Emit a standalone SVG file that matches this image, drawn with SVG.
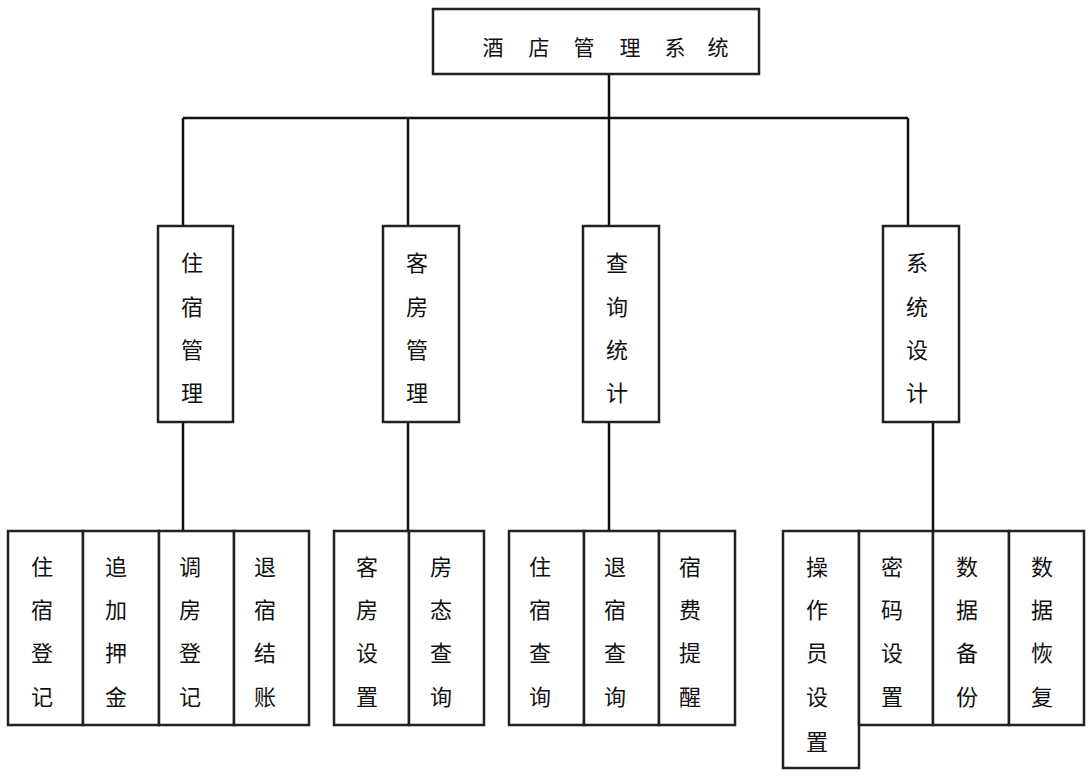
<svg xmlns="http://www.w3.org/2000/svg" width="1091" height="784" viewBox="0 0 1091 784">
<style>
.box{fill:#fff;stroke:#222;stroke-width:2.5}
.ln{fill:none;stroke:#111;stroke-width:2.5}
text{font-family:"Noto Sans CJK SC","Noto Sans CJK JP",sans-serif;fill:#111;text-anchor:middle;font-size:22px}
.t{font-size:21px}
</style>
<rect width="1091" height="784" fill="#fff"/>
<g id="connectors">
<path class="ln" d="M609 74V118M183 118H908M183 118V226M408 118V226M609 118V226M908 118V226"/>
<path class="ln" d="M183 422V531M408 422V531M609 422V531M933 422V531"/>
</g>
<g id="root"><rect class="box" x="433" y="9" width="326" height="65"/><text class="t" x="493 539 584 630 675 718" y="55">酒店管理系统</text></g>
<g id="n1"><rect class="box" x="158" y="226" width="75" height="196"/><text x="192 192 192 192" y="271 315 358 401">住宿管理</text></g>
<g id="n2"><rect class="box" x="383" y="226" width="76" height="196"/><text x="417 417 417 417" y="271 315 358 401">客房管理</text></g>
<g id="n3"><rect class="box" x="583" y="226" width="76" height="196"/><text x="617 617 617 617" y="271 315 358 401">查询统计</text></g>
<g id="n4"><rect class="box" x="883" y="226" width="76" height="196"/><text x="917 917 917 917" y="271 315 358 401">系统设计</text></g>
<g id="a1"><rect class="box" x="8" y="531" width="75" height="194"/><text x="42 42 42 42" y="575 618 661 705">住宿登记</text></g>
<g id="a2"><rect class="box" x="83" y="531" width="76" height="194"/><text x="116 116 116 116" y="575 618 661 705">追加押金</text></g>
<g id="a3"><rect class="box" x="159" y="531" width="75" height="194"/><text x="190 190 190 190" y="575 618 661 705">调房登记</text></g>
<g id="a4"><rect class="box" x="234" y="531" width="75" height="194"/><text x="265 265 265 265" y="575 618 661 705">退宿结账</text></g>
<g id="b1"><rect class="box" x="334" y="531" width="75" height="194"/><text x="367 367 367 367" y="575 618 661 705">客房设置</text></g>
<g id="b2"><rect class="box" x="409" y="531" width="75" height="194"/><text x="441 441 441 441" y="575 618 661 705">房态查询</text></g>
<g id="c1"><rect class="box" x="509" y="531" width="75" height="194"/><text x="540 540 540 540" y="575 618 661 705">住宿查询</text></g>
<g id="c2"><rect class="box" x="584" y="531" width="75" height="194"/><text x="615 615 615 615" y="575 618 661 705">退宿查询</text></g>
<g id="c3"><rect class="box" x="659" y="531" width="76" height="194"/><text x="690 690 690 690" y="575 618 661 705">宿费提醒</text></g>
<g id="d1"><rect class="box" x="783" y="531" width="76" height="237"/><text x="817 817 817 817 817" y="575 618 661 705 750">操作员设置</text></g>
<g id="d2"><rect class="box" x="859" y="531" width="74" height="194"/><text x="892 892 892 892" y="575 618 661 705">密码设置</text></g>
<g id="d3"><rect class="box" x="933" y="531" width="76" height="194"/><text x="967 967 967 967" y="575 618 661 705">数据备份</text></g>
<g id="d4"><rect class="box" x="1009" y="531" width="75" height="194"/><text x="1042 1042 1042 1042" y="575 618 661 705">数据恢复</text></g>
</svg>
